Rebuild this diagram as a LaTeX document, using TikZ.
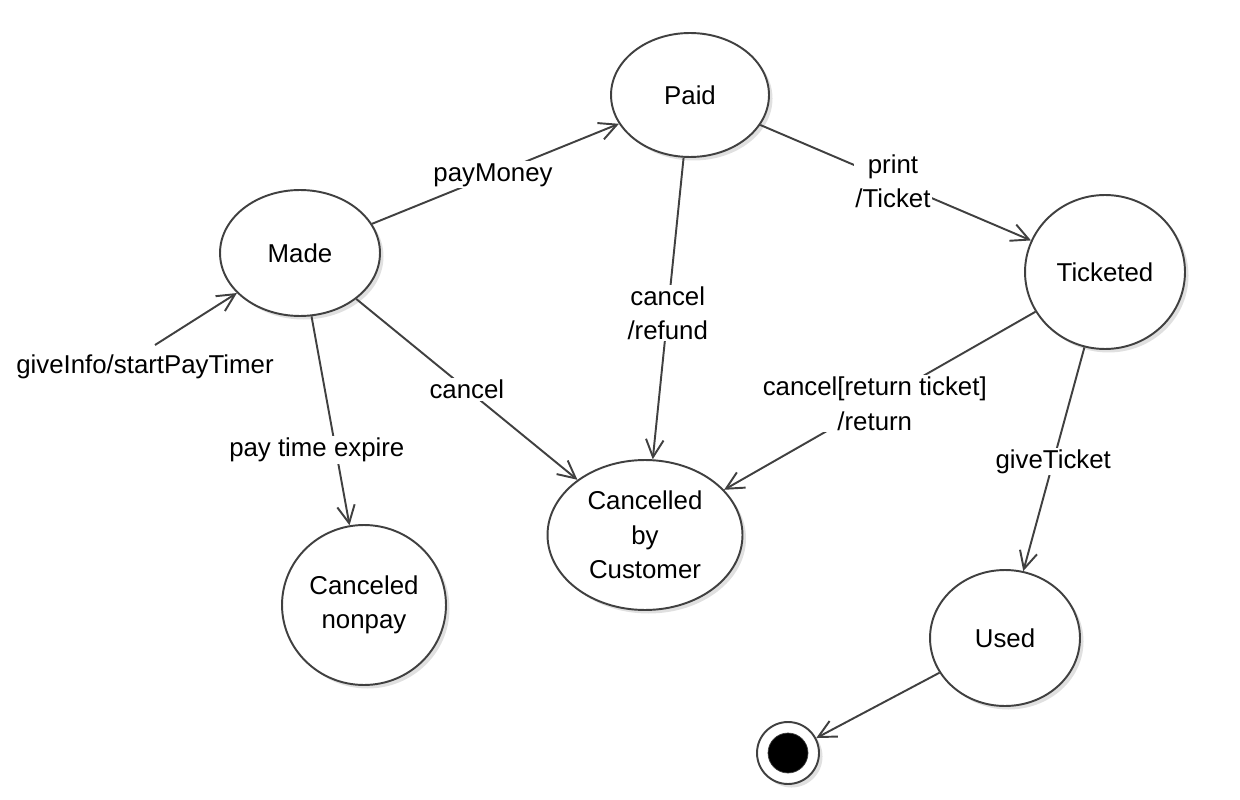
\documentclass[tikz,border=0pt]{standalone}
\usepackage{fontspec}
\setmainfont{Liberation Sans}
\usetikzlibrary{shapes.geometric,arrows.meta,shadows}
\newcommand{\mylinecolor}{black!75}
\newcommand{\mylabelfont}{\fontsize{14.7}{19.5}\selectfont}

\begin{document}
\begin{tikzpicture}[x=0.02cm,y=-0.02cm,
  every node/.style={font=\mylabelfont},
  state/.style={ellipse,draw=\mylinecolor,line width=1.1pt,fill=white,inner sep=0pt,align=center,
    drop shadow={shadow xshift=2pt,shadow yshift=-2pt,opacity=0.12,fill=black}},
  trans/.style={draw=\mylinecolor,line width=1.1pt,-{Straight Barb[length=10pt,width=10pt]}},
  lbl/.style={fill=white,inner sep=1pt,align=center}]

 \useasboundingbox (0,0) rectangle (1240,800);

 % states
 \node[state,minimum width=3.2cm,minimum height=2.52cm] (made) at (300,253) {Made};
 \node[state,minimum width=3.16cm,minimum height=2.48cm] (paid) at (690,95) {Paid};
 \node[state,minimum width=3.2cm,minimum height=3.08cm] (ticketed) at (1105,272) {Ticketed};
 \node[state,minimum width=3.9cm,minimum height=3.0cm] (cancelled) at (645,535) {Cancelled\\by\\Customer};
 \node[state,minimum width=3.28cm,minimum height=3.2cm] (nonpay) at (364,605) {Canceled\\nonpay};
 \node[state,minimum width=3.0cm,minimum height=2.72cm] (used) at (1005,638) {Used};

 % final state
 \node[circle,draw=\mylinecolor,line width=1.1pt,fill=white,minimum size=1.24cm,
   drop shadow={shadow xshift=2pt,shadow yshift=-2pt,opacity=0.12,fill=black}] (finalout) at (788,753) {};
 \node[circle,draw=\mylinecolor,fill=black,minimum size=0.8cm] (finalin) at (finalout) {};

 % initial transition
 \coordinate (init) at (155,345);
 \node[lbl] (initlbl) at (145,367) {giveInfo/startPayTimer};
 \draw[trans] (init) -- (made);

 % transitions
 \draw[trans] (made) -- node[lbl,pos=0.49] (paymoney) {payMoney} (paid);
 \draw[trans] (paid) -- node[lbl,pos=0.49] (print) {print\\/Ticket} (ticketed);
 \draw[trans] (paid) -- node[lbl,pos=0.515] (refund) {cancel\\/refund} (cancelled);
 \draw[trans] (made) -- node[lbl,pos=0.5] (cancelmade) {cancel} (cancelled);
 \draw[trans] (made) -- node[lbl,pos=0.64,xshift=-0.38cm] (expire) {pay time expire} (nonpay);
 \draw[trans] (ticketed) -- node[lbl,pos=0.516] (return) {cancel[return ticket]\\/return} (cancelled);
 \draw[trans] (ticketed) -- node[lbl,pos=0.51] (give) {giveTicket} (used);
 \draw[trans] (used) -- (finalout);

\end{tikzpicture}
\end{document}
